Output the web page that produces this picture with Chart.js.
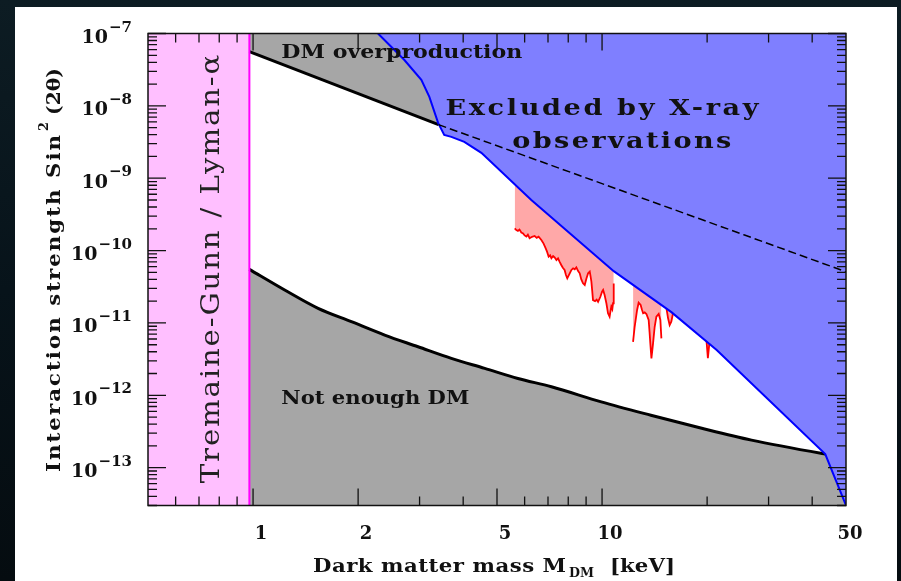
<!DOCTYPE html>
<html>
<head>
<meta charset="utf-8">
<script src="https://cdn.jsdelivr.net/npm/chart.js@4.4.1/dist/chart.umd.min.js"></script>
<style>
  html, body { margin: 0; padding: 0; }
  body {
    width: 901px; height: 581px; overflow: hidden; position: relative;
    background: linear-gradient(180deg, #0d1c23 0%, #07131a 50%, #050c10 100%);
  }
  #panel { position: absolute; left: 15px; top: 7px; width: 882px; height: 574px; background: #fff; }
  #chart { position: absolute; left: 0; top: 0; }
</style>
</head>
<body>
<div id="panel"></div>
<canvas id="chart" width="901" height="581"></canvas>
<script>
// axis ranges (keV, sin^2(2theta))
const xMin = 0.5, xMax = 50;
const yMin = 3e-14, yMax = 1e-7;

// Tremaine-Gunn / Lyman-alpha lower mass bound (keV)
const tremaineGunnLimit = 0.976;

// upper black line: DM overproduction (solid part, then dashed under the X-ray region)
const overproductionLine = [[0.976, 5.6e-8], [3.40, 5.5e-9]];
const overproductionDashed = [[3.40, 5.5e-9], [25.6, 1.64e-10], [50, 5.1e-11]];

// lower black line: not enough DM
const notEnoughLine = [
  [0.976, 5.5e-11], [1.232, 2.85e-11], [1.536, 1.59e-11], [1.913, 1.04e-11],
  [2.383, 6.8e-12], [2.97, 4.69e-12], [3.70, 3.24e-12], [4.61, 2.36e-12],
  [5.74, 1.71e-12], [7.16, 1.31e-12], [9.95, 8.1e-13], [13.8, 5.3e-13],
  [19.3, 3.5e-13], [26.8, 2.4e-13], [43.6, 1.54e-13], [50, 1.38e-13],
];

// X-ray exclusion boundary
const xrayBound = [
  [2.28, 1e-7], [2.71, 4.33e-8], [3.035, 2.29e-8], [3.20, 1.33e-8],
  [3.39, 5.82e-9], [3.53, 3.97e-9], [3.70, 3.73e-9], [4.03, 3.18e-9],
  [4.51, 2.24e-9], [6.27, 5.0e-10], [10.8, 5.2e-11], [15.8, 1.41e-11],
  [21.3, 4.22e-12], [43.6, 1.54e-13], [50, 3e-14],
];

// red line-search limits (four pieces)
const lineDips1 = [
  [5.62, 2.03e-10], [5.68, 1.92e-10], [5.74, 1.87e-10], [5.80, 1.95e-10], [5.87, 1.78e-10],
  [5.94, 1.73e-10], [6.00, 1.62e-10], [6.07, 1.56e-10], [6.13, 1.66e-10], [6.20, 1.48e-10],
  [6.30, 1.55e-10], [6.41, 1.59e-10], [6.50, 1.50e-10], [6.58, 1.56e-10], [6.70, 1.40e-10],
  [6.80, 1.25e-10], [6.89, 1.08e-10], [6.96, 9.6e-11], [7.03, 8.24e-11], [7.10, 8.6e-11],
  [7.16, 7.83e-11], [7.24, 8.4e-11], [7.31, 8.07e-11], [7.40, 7.4e-11], [7.48, 7.83e-11],
  [7.56, 7.0e-11], [7.64, 6.32e-11], [7.72, 5.8e-11], [7.81, 5.39e-11], [7.88, 4.6e-11],
  [7.95, 4.14e-11], [8.02, 4.5e-11], [8.08, 4.85e-11], [8.17, 5.4e-11], [8.26, 5.69e-11],
  [8.35, 5.5e-11], [8.44, 5.87e-11], [8.54, 5.2e-11], [8.63, 4.85e-11], [8.72, 4.0e-11],
  [8.82, 3.53e-11], [8.92, 3.34e-11], [9.02, 4.1e-11], [9.12, 4.85e-11], [9.22, 5.11e-11],
  [9.27, 4.4e-11], [9.32, 3.72e-11], [9.37, 2.8e-11], [9.42, 2.07e-11], [9.55, 2.0e-11],
  [9.65, 2.1e-11], [9.74, 1.96e-11], [9.89, 2.30e-11], [10.00, 2.7e-11], [10.07, 2.85e-11],
  [10.17, 2.43e-11], [10.29, 1.87e-11], [10.40, 1.36e-11], [10.51, 1.22e-11], [10.57, 1.45e-11],
  [10.63, 1.68e-11], [10.70, 1.55e-11], [10.75, 1.87e-11], [10.8, 3.5e-11],
];
const lineDips2 = [
  [12.27, 5.49e-12], [12.40, 8.86e-12], [12.60, 1.51e-11], [12.73, 1.90e-11],
  [12.90, 1.77e-11], [13.00, 1.55e-11], [13.11, 1.36e-11], [13.25, 1.40e-11], [13.40, 1.33e-11],
  [13.60, 1.10e-11], [13.68, 7.5e-12], [13.75, 5.22e-12], [13.85, 3.24e-12], [14.00, 5.22e-12],
  [14.15, 8.86e-12], [14.31, 1.22e-11], [14.53, 1.33e-11], [14.69, 1.10e-11], [14.79, 6.12e-12],
];
const lineDips3 = [[15.29, 1.6e-11], [15.46, 1.16e-11], [15.62, 9.35e-12], [15.79, 1.04e-11], [15.97, 1.36e-11]];
const lineDips4 = [[19.9, 6e-12], [20.1, 3.27e-12], [20.3, 5.27e-12]];

// ticks
const xMajorTicks = [1, 2, 5, 10];
const xMinorTicks = [0.6, 0.7, 0.8, 0.9, 3, 4, 6, 7, 8, 9, 20, 30, 40];
const xTickLabels = [1, 2, 5, 10, 50];
const yDecades = [-13, -12, -11, -10, -9, -8, -7];

const pts = (arr) => arr.map(([x, y]) => ({ x, y }));

function curve(data, opts) {
  return Object.assign({
    data: pts(data),
    pointRadius: 0,
    borderWidth: 0,
    borderColor: 'rgba(0,0,0,0)',
    fill: false,
    tension: 0,
  }, opts);
}

// text fitted to a given width: glyphs widened a bit (typewriter look), rest as spacing
function fitText(ctx, text, left, baseline, width, maxStretch = 1.18) {
  ctx.save();
  ctx.letterSpacing = '0px';
  const natural = ctx.measureText(text).width;
  const s = Math.min(maxStretch, width / natural);
  const gap = text.length > 1 ? (width - natural * s) / (text.length - 1) / s : 0;
  ctx.translate(left, baseline);
  ctx.scale(s, 1);
  ctx.letterSpacing = gap + 'px';
  ctx.textAlign = 'left';
  ctx.fillText(text, 0, 0);
  ctx.restore();
}

const SERIF = '"DejaVu Serif", "Liberation Serif", serif';

const decorations = {
  id: 'decorations',
  afterDatasetsDraw(chart) {
    const { ctx, chartArea: a } = chart;
    const xs = chart.scales.x, ys = chart.scales.y;
    ctx.save();

    // frame
    ctx.strokeStyle = '#111';
    ctx.lineWidth = 1.5;
    ctx.strokeRect(a.left, a.top, a.right - a.left, a.bottom - a.top);

    // inward ticks on all four sides
    ctx.lineWidth = 1.3;
    ctx.beginPath();
    const xTick = (v, len) => {
      const px = xs.getPixelForValue(v);
      ctx.moveTo(px, a.bottom); ctx.lineTo(px, a.bottom - len);
      ctx.moveTo(px, a.top); ctx.lineTo(px, a.top + len);
    };
    xMajorTicks.forEach((v) => xTick(v, 17));
    xMinorTicks.forEach((v) => xTick(v, 9));
    for (let e = -14; e <= -7; e++) {
      for (let m = 1; m <= 9; m++) {
        const v = m * Math.pow(10, e);
        if (v < yMin || v > yMax) continue;
        const py = ys.getPixelForValue(v);
        const len = m === 1 ? 18 : 9;
        ctx.moveTo(a.left, py); ctx.lineTo(a.left + len, py);
        ctx.moveTo(a.right, py); ctx.lineTo(a.right - len, py);
      }
    }
    ctx.stroke();

    ctx.fillStyle = '#111';
    ctx.textBaseline = 'alphabetic';

    // y tick labels 10^e
    yDecades.forEach((e) => {
      const py = ys.getPixelForValue(Math.pow(10, e));
      ctx.font = 'bold 15px ' + SERIF;
      ctx.textAlign = 'right';
      const exp = '\u2212' + (-e);
      const ew = ctx.measureText(exp).width;
      ctx.fillText(exp, a.left - 16, py - 2);
      ctx.font = 'bold 19px ' + SERIF;
      ctx.fillText('10', a.left - 17 - ew, py + 9.5);
    });

    // x tick labels
    ctx.font = 'bold 18px ' + SERIF;
    ctx.textAlign = 'center';
    xTickLabels.forEach((v) => {
      const px = xs.getPixelForValue(v);
      ctx.fillText(String(v), Math.min(px + 8, a.right + 4), a.bottom + 33.5);
    });

    // x axis title with subscript
    ctx.font = 'bold 18px ' + SERIF;
    fitText(ctx, 'Dark matter mass M', a.left + 165, a.bottom + 66.5, 253);
    ctx.font = 'bold 12px ' + SERIF;
    fitText(ctx, 'DM', a.left + 421, a.bottom + 71, 25);
    ctx.font = 'bold 18px ' + SERIF;
    fitText(ctx, '[keV]', a.left + 462, a.bottom + 66.5, 65);

    // y axis title, rotated, with superscript
    ctx.save();
    ctx.translate(a.left - 88, a.bottom - 33.5);
    ctx.rotate(-Math.PI / 2);
    ctx.font = 'bold 18px ' + SERIF;
    fitText(ctx, 'Interaction strength Sin', 0, 0, 337);
    ctx.font = 'bold 13px ' + SERIF;
    fitText(ctx, '2', 341, -12, 9);
    ctx.font = 'bold 18px ' + SERIF;
    fitText(ctx, '(2\u03b8)', 357, 0, 47);
    ctx.restore();

    // region labels, anchored in data coordinates
    const labels = [
      { text: 'DM overproduction', x: 1.205, y: 4.61e-8, width: 241, size: 19 },
      { text: 'Excluded by X-ray', x: 3.56, y: 7.5e-9, width: 313, size: 23 },
      { text: 'observations', x: 5.53, y: 2.62e-9, width: 219, size: 23 },
      { text: 'Not enough DM', x: 1.205, y: 7.55e-13, width: 188, size: 19 },
    ];
    labels.forEach((l) => {
      ctx.font = 'bold ' + l.size + 'px ' + SERIF;
      fitText(ctx, l.text, xs.getPixelForValue(l.x), ys.getPixelForValue(l.y), l.width);
    });

    // Tremaine-Gunn / Lyman-alpha, vertical
    const tx = xs.getPixelForValue(0.80);
    const ty0 = ys.getPixelForValue(6.1e-14);
    const ty1 = ys.getPixelForValue(5.07e-8);
    ctx.save();
    ctx.translate(tx, ty0);
    ctx.rotate(-Math.PI / 2);
    ctx.fillStyle = '#222';
    ctx.font = '26px ' + SERIF;
    fitText(ctx, 'Tremaine-Gunn / Lyman-\u03b1', 0, 0, ty0 - ty1, 1.12);
    ctx.restore();

    ctx.restore();
  },
};

const chart = new Chart(document.getElementById('chart'), {
  type: 'line',
  data: {
    datasets: [
      curve([[xMin, yMax], [tremaineGunnLimit, yMax]], { fill: 'start', backgroundColor: '#ffbfff', order: 7 }),
      curve(overproductionLine, { fill: 'end', backgroundColor: '#a6a6a6', borderColor: '#000', borderWidth: 3, order: 6 }),
      curve(notEnoughLine, { fill: 'start', backgroundColor: '#a6a6a6', borderColor: '#000', borderWidth: 3, cubicInterpolationMode: 'monotone', order: 5 }),
      ...[lineDips1, lineDips2, lineDips3, lineDips4].map((d) =>
        curve(d, { fill: 'end', backgroundColor: '#ffa8a8', borderColor: '#ff0000', borderWidth: 1.8, order: 4 })),
      curve(xrayBound, { fill: 'end', backgroundColor: '#7f7fff', borderColor: '#0000ff', borderWidth: 2, order: 3 }),
      curve(overproductionDashed, { borderColor: '#000', borderWidth: 1.5, borderDash: [8, 4], order: 2 }),
      curve([[tremaineGunnLimit, yMin], [tremaineGunnLimit, yMax]], { borderColor: '#ff00ff', borderWidth: 2, order: 1 }),
    ],
  },
  options: {
    responsive: false,
    animation: false,
    devicePixelRatio: 1,
    events: [],
    layout: { padding: { left: 148, top: 33.5, right: 55, bottom: 75.5 } },
    plugins: { legend: { display: false }, tooltip: { enabled: false } },
    scales: {
      x: { type: 'logarithmic', min: xMin, max: xMax, display: false },
      y: { type: 'logarithmic', min: yMin, max: yMax, display: false },
    },
  },
  plugins: [decorations],
});
</script>
</body>
</html>
